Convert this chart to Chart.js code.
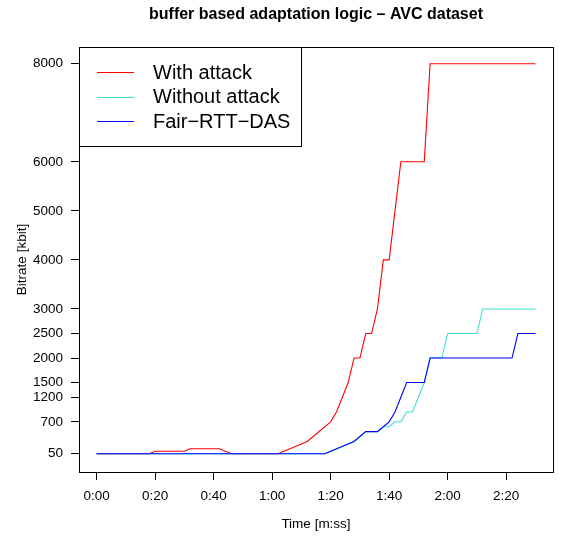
<!DOCTYPE html>
<html>
<head>
<meta charset="utf-8">
<script src="https://cdn.jsdelivr.net/npm/chart.js@4/dist/chart.umd.min.js"></script>
<style>
body { margin: 0; background: #fff; }
canvas { display: block; }
</style>
</head>
<body>
<canvas id="bitrateChart" width="562" height="539"></canvas>
<script>
// time in seconds, bitrate in kbit
const attackTime = [0, 18, 20, 30, 32, 42, 46, 62, 72, 80, 82, 84, 86, 88, 90, 92, 94, 96, 98, 100, 102, 104, 112, 114, 150];
const attackRate = [50, 50, 100, 100, 150, 150, 50, 50, 300, 700, 900, 1200, 1500, 2000, 2000, 2500, 2500, 3000, 4000, 4000, 5000, 6000, 6000, 8000, 8000];

const noAttackTime = [0, 78, 88, 92, 96, 98, 100, 102, 104, 106, 108, 110, 112, 114, 118, 120, 130, 132, 150];
const noAttackRate = [50, 50, 300, 500, 500, 600, 600, 700, 700, 900, 900, 1200, 1500, 2000, 2000, 2500, 2500, 3000, 3000];

const fairTime = [0, 78, 88, 92, 96, 98, 100, 102, 104, 106, 112, 114, 142, 144, 150];
const fairRate = [50, 50, 300, 500, 500, 600, 700, 900, 1200, 1500, 1500, 2000, 2000, 2500, 2500];

const seriesNames = ["With attack", "Without attack", "Fair\u2212RTT\u2212DAS"];
const seriesColors = ["#ff0000", "#3fe0d4", "#0000ff"];

const xTicks = [0, 20, 40, 60, 80, 100, 120, 140];
const xTickLabels = ["0:00", "0:20", "0:40", "1:00", "1:20", "1:40", "2:00", "2:20"];
const yTicks = [50, 700, 1200, 1500, 2000, 2500, 3000, 4000, 5000, 6000, 8000];

const FONT = "'Liberation Sans', Arial, sans-serif";

function points(times, rates) {
    return times.map((t, i) => ({ x: t, y: rates[i] }));
}

const extras = {
    id: "extras",
    beforeDraw(chart) {
        const ctx = chart.ctx;
        ctx.save();
        ctx.fillStyle = "#fff";
        ctx.fillRect(0, 0, chart.width, chart.height);
        ctx.restore();
    },
    afterDraw(chart) {
        const ctx = chart.ctx;
        const a = chart.chartArea;
        ctx.save();

        // plot box
        ctx.strokeStyle = "#000";
        ctx.lineWidth = 1;
        ctx.strokeRect(a.left + 0.5, a.top + 0.5, a.right - a.left, a.bottom - a.top);

        // main title
        ctx.fillStyle = "#000";
        ctx.textAlign = "center";
        ctx.textBaseline = "middle";
        ctx.font = "bold 16px " + FONT;
        ctx.fillText("buffer based adaptation logic \u2013 AVC dataset", (a.left + a.right) / 2, 15);

        // axis titles
        ctx.font = "13.5px " + FONT;
        ctx.fillText("Time [m:ss]", (a.left + a.right) / 2, 524);
        ctx.save();
        ctx.translate(22, (a.top + a.bottom) / 2);
        ctx.rotate(-Math.PI / 2);
        ctx.fillText("Bitrate [kbit]", 0, 0);
        ctx.restore();

        // legend
        ctx.fillStyle = "#fff";
        ctx.fillRect(a.left + 0.5, a.top + 0.5, 222, 99);
        ctx.strokeRect(a.left + 0.5, a.top + 0.5, 222, 99);
        ctx.font = "20px " + FONT;
        ctx.textAlign = "left";
        seriesNames.forEach((name, i) => {
            const y = 72 + i * 24.5;
            ctx.strokeStyle = seriesColors[i];
            ctx.beginPath();
            ctx.moveTo(97, Math.round(y) + 0.5);
            ctx.lineTo(134, Math.round(y) + 0.5);
            ctx.stroke();
            ctx.fillStyle = "#000";
            ctx.fillText(name, 153, y + 1);
        });
        ctx.restore();
    }
};

new Chart(document.getElementById("bitrateChart"), {
    type: "line",
    data: {
        datasets: [
            { label: seriesNames[0], data: points(attackTime, attackRate), borderColor: seriesColors[0], order: 2 },
            { label: seriesNames[1], data: points(noAttackTime, noAttackRate), borderColor: seriesColors[1], order: 1 },
            { label: seriesNames[2], data: points(fairTime, fairRate), borderColor: seriesColors[2], order: 0 }
        ]
    },
    options: {
        responsive: false,
        animation: false,
        devicePixelRatio: 1,
        layout: { padding: { top: 47, right: 9, bottom: 0, left: 0 } },
        elements: {
            line: { borderWidth: 1.1, tension: 0, fill: false },
            point: { radius: 0, hoverRadius: 0 }
        },
        scales: {
            x: {
                type: "linear",
                min: -6,
                max: 156,
                afterBuildTicks: s => { s.ticks = xTicks.map(v => ({ value: v })); },
                afterFit: s => { s.height = 67; },
                border: { display: false },
                grid: { drawOnChartArea: false, drawTicks: true, tickLength: 8, color: "#000" },
                ticks: {
                    color: "#000",
                    font: { family: FONT, size: 13.5 },
                    padding: 8,
                    maxRotation: 0,
                    autoSkip: false,
                    callback: v => xTickLabels[xTicks.indexOf(v)]
                }
            },
            y: {
                type: "linear",
                min: -323,
                max: 8340,
                afterBuildTicks: s => { s.ticks = yTicks.map(v => ({ value: v })); },
                afterFit: s => { s.width = 79; },
                border: { display: false },
                grid: { drawOnChartArea: false, drawTicks: true, tickLength: 8, color: "#000" },
                ticks: {
                    color: "#000",
                    font: { family: FONT, size: 13.5 },
                    padding: 8,
                    autoSkip: false,
                    callback: v => String(v)
                }
            }
        },
        plugins: {
            legend: { display: false },
            title: { display: false },
            tooltip: { enabled: false }
        }
    },
    plugins: [extras]
});
</script>
</body>
</html>
